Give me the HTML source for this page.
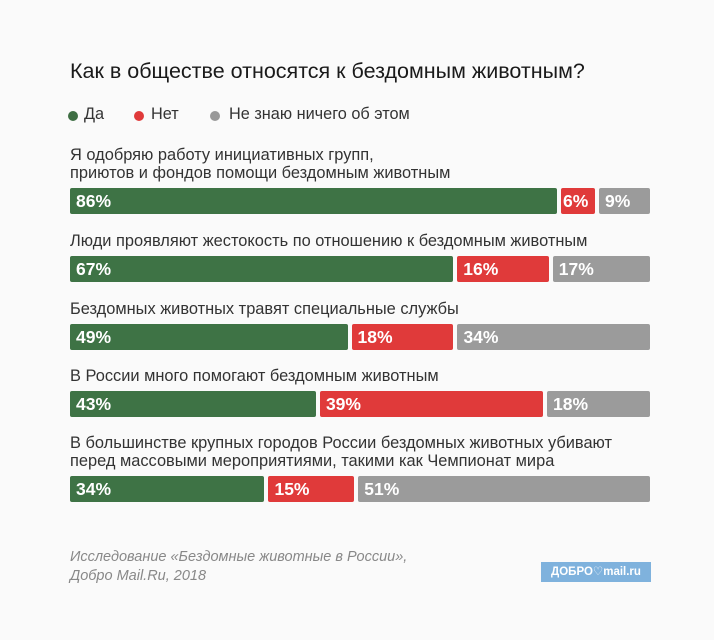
<!DOCTYPE html>
<html><head><meta charset="utf-8"><style>
body{margin:0;width:714px;height:640px;background:#fafafa;font-family:"Liberation Sans","DejaVu Sans",sans-serif;position:relative;overflow:hidden;color:#222}
.a{position:absolute;white-space:nowrap}
.title{left:70px;top:59px;font-size:21.5px;color:#1a1a1a}
.leg{top:105px;font-size:16.3px;color:#333}
.dot{position:absolute;top:111px;width:10px;height:10px;border-radius:50%}
.q{left:70px;font-size:16.4px;color:#333;line-height:17.5px}
.seg{position:absolute;height:26px;border-radius:2px;color:#fff;font-weight:bold;font-size:17.5px;line-height:27px;box-sizing:border-box;padding-left:6px;overflow:hidden}
.src{left:70px;top:548px;font-style:italic;font-size:14.5px;color:#888;line-height:19px}
.logo{left:541px;top:562px;width:110px;height:20px;background:#7fb2dd;color:#fff;font-weight:bold;font-size:11.5px;line-height:20px;text-align:center}
</style></head><body>
<div class="a title">Как в обществе относятся к бездомным животным?</div>
<div class="dot" style="left:68px;background:#3e6e43"></div>
<div class="a leg" style="left:84px">Да</div>
<div class="dot" style="left:134px;background:#e03a3a"></div>
<div class="a leg" style="left:151px">Нет</div>
<div class="dot" style="left:210px;background:#999"></div>
<div class="a leg" style="left:229px">Не знаю ничего об этом</div>
<div id="chart"></div>
<div class="a src">Исследование «Бездомные животные в России»,<br>Добро Mail.Ru, 2018</div>
<div class="a logo">ДОБРО♡mail.ru</div>
<script>
const questions=["Я одобряю работу инициативных групп,\nприютов и фондов помощи бездомным животным","Люди проявляют жестокость по отношению к бездомным животным","Бездомных животных травят специальные службы","В России много помогают бездомным животным","В большинстве крупных городов России бездомных животных убивают\nперед массовыми мероприятиями, такими как Чемпионат мира"];
const yes=[86,67,49,43,34];
const no=[6,16,18,39,15];
const unknown=[9,17,34,18,51];
const colors=["#3e7345","#e03a3a","#9b9b9b"];
const barTops=[188,256,324,391,476];
const X0=70,W=580,GAP=4;
const chart=document.getElementById('chart');
questions.forEach((q,i)=>{
  const lines=q.split("\n");
  const lab=document.createElement('div');
  lab.className='a q';
  
  
  lab.style.top=(barTops[i]-6-lines.length*17.5)+'px';
  lab.innerHTML=lines.join('<br>');
  chart.appendChild(lab);
  const vals=[yes[i],no[i],unknown[i]];
  const sum=vals.reduce((a,b)=>a+b,0);
  const avail=W-GAP*2;
  let x=X0;
  vals.forEach((v,j)=>{
    const w=avail*v/sum;
    const s=document.createElement('div');
    s.className='seg';
    
    
    s.style.left=x+'px';s.style.top=barTops[i]+'px';s.style.width=w+'px';
    s.style.background=colors[j];
    if(w<40)s.style.paddingLeft='2px';
    s.textContent=v+'%';
    chart.appendChild(s);
    x+=w+GAP;
  });
});
</script>
</body></html>
